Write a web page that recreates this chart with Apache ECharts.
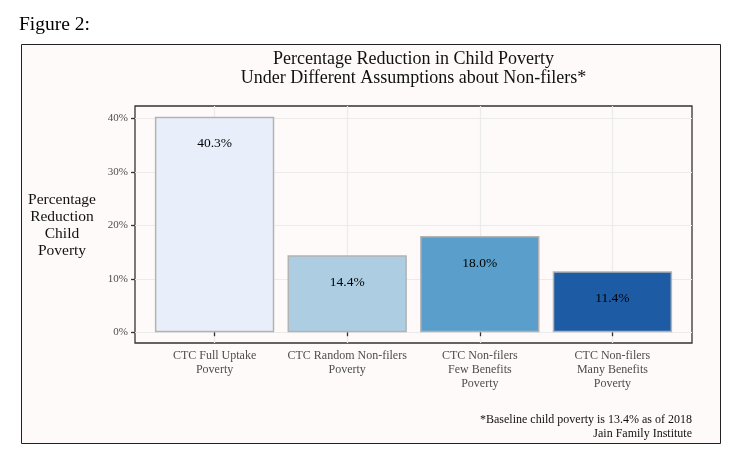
<!DOCTYPE html>
<html><head><meta charset="utf-8">
<script src="https://cdn.jsdelivr.net/npm/echarts@6/dist/echarts.min.js"></script>
<style>html,body{margin:0;padding:0;background:#fff}#c{width:741px;height:464px}</style>
</head><body><div id="c"></div>
<script>
const categories = ['CTC Full Uptake\nPoverty', 'CTC Random Non-filers\nPoverty', 'CTC Non-filers\nFew Benefits\nPoverty', 'CTC Non-filers\nMany Benefits\nPoverty'];
const values = [40.3, 14.4, 18.0, 11.4];
const barColors = ['#E8EFFB', '#ADCDE2', '#5A9ECB', '#1D5BA5'];
const yTicks = [0, 10, 20, 30, 40];
const titleText = 'Percentage Reduction in Child Poverty\nUnder Different Assumptions about Non-filers*';
const yTitle = 'Percentage\nReduction\nChild\nPoverty';
const caption = '*Baseline child poverty is 13.4% as of 2018\nJain Family Institute';
const figLabel = 'Figure 2:';

const yMin = -0.05 * Math.max(...values);
const yMax = Math.max(...values) * 1.05;
const FONT = '"Liberation Serif", serif';

const chart = echarts.init(document.getElementById('c'), null, {renderer: 'canvas'});
chart.setOption({
  animation: false,
  backgroundColor: '#ffffff',
  textStyle: {fontFamily: FONT},
  graphic: [
    {type: 'rect', z: -10, shape: {x: 21.5, y: 44.5, width: 699, height: 399},
     style: {fill: '#FEFAF9', stroke: '#222', lineWidth: 1}},
    {type: 'text', x: 19, y: 25, style: {text: figLabel, font: '19.5px ' + FONT, fill: '#000', verticalAlign: 'middle', align: 'left'}},
    {type: 'text', x: 413.5, y: 68.5, style: {text: titleText, font: '18px ' + FONT, lineHeight: 19, fill: '#111', align: 'center', verticalAlign: 'middle'}},
    {type: 'text', x: 62, y: 225.5, style: {text: yTitle, font: '15.5px ' + FONT, lineHeight: 17, fill: '#111', align: 'center', verticalAlign: 'middle'}},
    {type: 'text', x: 692, y: 426.5, style: {text: caption, font: '12px ' + FONT, lineHeight: 14, fill: '#111', align: 'right', verticalAlign: 'middle'}}
  ],
  grid: [
    {left: 135, top: 106, width: 557, height: 237, show: true, borderColor: '#333', borderWidth: 1.3, backgroundColor: 'transparent'},
    {left: 135 + 0.6 * 557 / 4.2, top: 106, width: 3 * 557 / 4.2, height: 237}
  ],
  xAxis: [
    {type: 'value', gridIndex: 0, min: 0, max: 1, show: false},
    {type: 'category', gridIndex: 1, data: categories, boundaryGap: false,
     axisLine: {show: false},
     axisTick: {show: true, length: 4, lineStyle: {color: '#333', width: 1.3}},
     axisLabel: {interval: 0, color: '#4d4d4d', fontSize: 12, lineHeight: 14, margin: 6, fontFamily: FONT},
     splitLine: {show: true, lineStyle: {color: '#ebebeb', width: 1.2}}}
  ],
  yAxis: [
    {type: 'value', gridIndex: 0, min: yMin, max: yMax,
     axisLine: {show: false},
     axisTick: {show: true, length: 4, customValues: yTicks, lineStyle: {color: '#333', width: 1.3}},
     axisLabel: {customValues: yTicks, formatter: '{value}%', color: '#4d4d4d', fontSize: 11, margin: 7, fontFamily: FONT},
     splitLine: {show: true, lineStyle: {color: '#ebebeb', width: 1.2}}},
    {type: 'value', gridIndex: 1, min: yMin, max: yMax, show: false, splitLine: {show: false}}
  ],
  series: [{
    type: 'bar', xAxisIndex: 1, yAxisIndex: 1, clip: false,
    barWidth: 0.9 * 557 / 4.2,
    data: values.map((v, i) => ({value: v, itemStyle: {color: barColors[i]}})),
    itemStyle: {borderColor: '#b3b3b3', borderWidth: 1.5},
    label: {show: true, position: 'insideTop', distance: 20, color: '#000', fontSize: 13.5, fontFamily: FONT,
            formatter: p => p.value.toFixed(1) + '%'}
  }]
});
</script></body></html>
